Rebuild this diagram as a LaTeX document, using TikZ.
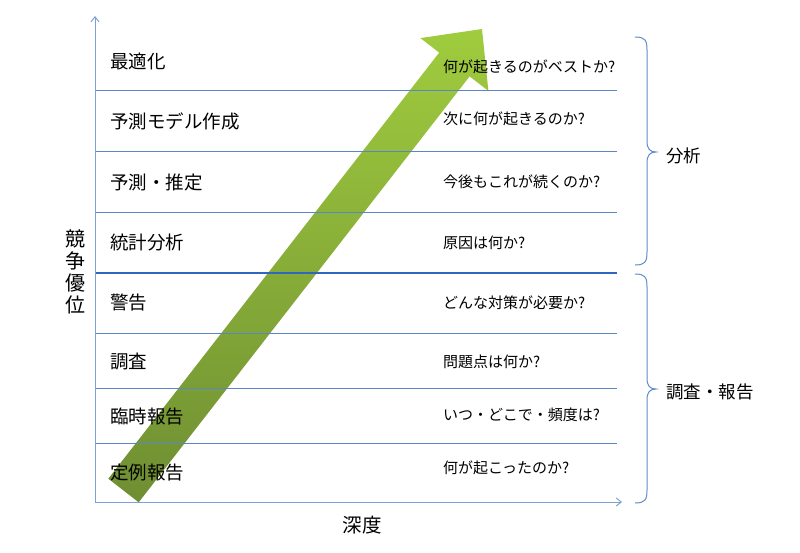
\documentclass[tikz,border=0pt]{standalone}
\usepackage{fontspec}
\setmainfont{Noto Sans CJK JP}
\usetikzlibrary{arrows.meta}
\definecolor{thinc}{HTML}{5A86C6}
\definecolor{thickc}{HTML}{2F66BE}
\definecolor{axisc}{HTML}{7FA0D4}
\definecolor{braces}{HTML}{5F8BCB}
\definecolor{arrtop}{HTML}{A0CC3E}
\definecolor{arrbot}{HTML}{6F8E33}
\begin{document}
\begin{tikzpicture}[x=1pt,y=-1pt,
  lefttxt/.style={anchor=west,inner sep=0pt,font=\fontsize{18.5}{20}\selectfont},
  righttxt/.style={anchor=west,inner sep=0pt,font=\fontsize{15}{17}\selectfont},
  bracetxt/.style={anchor=west,inner sep=0pt,font=\fontsize{17.5}{19}\selectfont},
  thinline/.style={draw=thinc,line width=1pt},
  thickline/.style={draw=thickc,line width=2.2pt},
  axisline/.style={draw=axisc,line width=1pt,-{Straight Barb[length=5pt,width=8pt]}},
  bracestyle/.style={draw=braces,line width=1pt}]
\useasboundingbox (0,0) rectangle (800,552);
% big arrow
\shade[top color=arrtop,bottom color=arrbot]
  (108.3,478.7) -- (439.2,52.6) -- (420.4,38.1) -- (482,29) -- (488.4,90.9)
  -- (469.6,76.4) -- (138.7,502.3) -- cycle;
% coordinates
\coordinate (o) at (95,502);
\coordinate (ytop) at (95,16);
\coordinate (xend) at (622,502);
\foreach \y/\n in {90/a,151/b,212/c,333/e,388/f,443/g}{
  \coordinate (l\n) at (95,\y);
  \coordinate (r\n) at (617,\y);
  \draw[thinline] (l\n) -- (r\n);
}
\coordinate (ld) at (95,273);
\coordinate (rd) at (617,273);
\draw[thickline] (ld) -- (rd);
\draw[axisline] (o) -- (ytop);
\draw[axisline] (o) -- (xend);
% braces
\coordinate (b1t) at (635,37);
\coordinate (b1b) at (635,265);
\coordinate (b2t) at (635,274);
\coordinate (b2b) at (635,503);
\draw[bracestyle] (b1t) .. controls (645,37) and (647,40) .. (647,50) -- (647,141)
  .. controls (647,149) and (650,152) .. (656,152)
  .. controls (650,152) and (647,155) .. (647,163) -- (647,252)
  .. controls (647,262) and (645,265) .. (b1b);
\draw[bracestyle] (b2t) .. controls (645,274) and (647,277) .. (647,287) -- (647,378)
  .. controls (647,386) and (650,389) .. (656,389)
  .. controls (650,389) and (647,392) .. (647,400) -- (647,490)
  .. controls (647,500) and (645,503) .. (b2b);
% left texts
\node[lefttxt] (t1) at (110,61) {最適化};
\node[lefttxt] (t2) at (110,121) {予測モデル作成};
\node[lefttxt] (t3) at (110,182) {予測・推定};
\node[lefttxt] (t4) at (110,243) {統計分析};
\node[lefttxt] (t5) at (110,303) {警告};
\node[lefttxt] (t6) at (110,362) {調査};
\node[lefttxt] (t7) at (110,417) {臨時報告};
\node[lefttxt] (t8) at (110,473) {定例報告};
% right texts
\node[righttxt] (q1) at (443,67) {何が起きるのがベストか?};
\node[righttxt] (q2) at (443,119) {次に何が起きるのか?};
\node[righttxt] (q3) at (443,182) {今後もこれが続くのか?};
\node[righttxt] (q4) at (443,243) {原因は何か?};
\node[righttxt] (q5) at (443,303) {どんな対策が必要か?};
\node[righttxt] (q6) at (443,362) {問題点は何か?};
\node[righttxt] (q7) at (443,415) {いつ・どこで・頻度は?};
\node[righttxt] (q8) at (443,468) {何が起こったのか?};
% brace labels
\node[bracetxt] (g1) at (666,156) {分析};
\node[bracetxt] (g2) at (666,392) {調査・報告};
% axis labels
\node[inner sep=0pt,align=center,font=\fontsize{20}{22}\selectfont] (ylab) at (75,272) {競\\争\\優\\位};
\node[inner sep=0pt,font=\fontsize{19.5}{21}\selectfont] (xlab) at (362,525) {深度};
\end{tikzpicture}
\end{document}
